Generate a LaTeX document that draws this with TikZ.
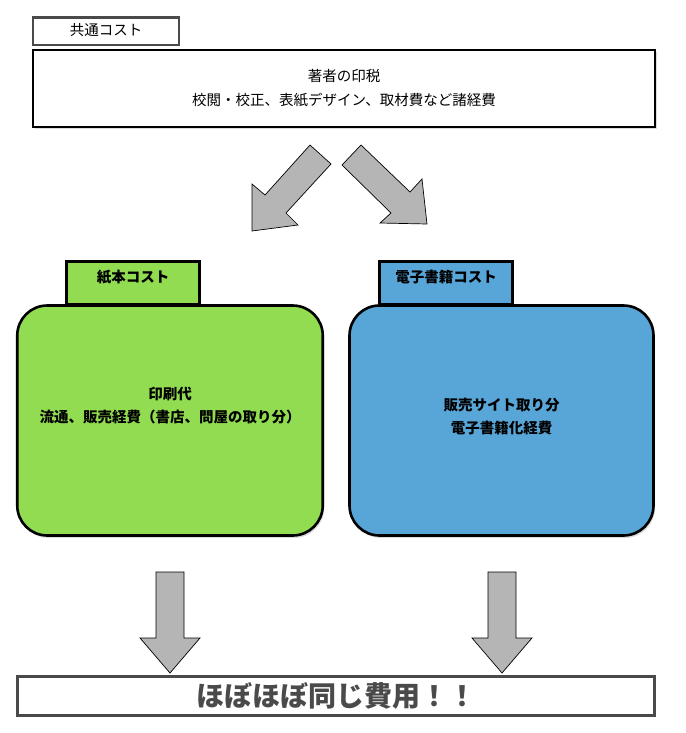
\documentclass[tikz,border=0pt]{standalone}
\usepackage{fontspec}
\setmainfont{Noto Sans CJK JP}
\usetikzlibrary{shadows}
\definecolor{paperfill}{RGB}{145,220,80}
\definecolor{ebookfill}{RGB}{88,166,216}
\definecolor{arrowgray}{RGB}{181,181,181}
\definecolor{bordergray}{RGB}{74,74,74}
\begin{document}
\begin{tikzpicture}[x=1pt,y=-1pt,
  softshadow/.style={drop shadow={opacity=0.28,shadow xshift=1.5pt,shadow yshift=-2.5pt}},
  graybox/.style={draw=bordergray,line width=2.6pt,fill=white,inner sep=0pt},
  blackbox/.style={draw=black,line width=2.6pt,fill=white,inner sep=0pt,softshadow},
  tabbox/.style={draw=black,line width=2.6pt,inner sep=0pt,softshadow},
  costbox/.style={draw=black,line width=2.6pt,rounded corners=30pt,inner sep=0pt,softshadow},
  regtext/.style={font=\fontsize{14.5}{24}\selectfont,align=center,inner sep=0pt},
  boldtext/.style={font=\fontsize{14.5}{23}\selectfont\bfseries,align=center,inner sep=0pt},
  blockarrow/.style={draw=black,line width=0.7pt,fill=arrowgray,line join=miter}
]
\useasboundingbox (0,0) rectangle (685,733);

% common cost
\node[blackbox,minimum width=622pt,minimum height=77pt,regtext] (common) at (344,88.5)
  {著者の印税\\校閲・校正、表紙デザイン、取材費など諸経費};
\node[graybox,minimum width=146pt,minimum height=27.5pt] (commontab) at (106,31.2) {};
\node[regtext] (commonlabel) at (106,30) {共通コスト};

% diagonal arrows
\draw[blockarrow] (310,145) -- (331,164) -- (286,213) -- (298,225) -- (252,231) -- (252,184) -- (265,195) -- cycle;
\draw[blockarrow] (361,145) -- (410,192) -- (422,179) -- (427,224) -- (380,223) -- (391,213) -- (342,165) -- cycle;

% paper book
\node[tabbox,fill=paperfill,minimum width=133.5pt,minimum height=42.5pt] (papertab) at (133,282.75) {};
\node[boldtext] (paperlabel) at (133,277) {紙本コスト};
\node[costbox,fill=paperfill,minimum width=305.5pt,minimum height=230pt] (paper) at (170,420.5) {};
\node[boldtext] (papertext) at (170,405.5) {印刷代\\流通、販売経費（書店、問屋の取り分）};

% ebook
\node[tabbox,fill=ebookfill,minimum width=133pt,minimum height=42.5pt] (ebooktab) at (446,282.75) {};
\node[boldtext] (ebooklabel) at (446,277) {電子書籍コスト};
\node[costbox,fill=ebookfill,minimum width=304pt,minimum height=230pt] (ebook) at (501.5,420.5) {};
\node[boldtext] (ebooktext) at (501.5,417) {販売サイト取り分\\電子書籍化経費};

% result
\node[graybox,minimum width=637pt,minimum height=39pt,font=\fontsize{28}{30}\selectfont\bfseries,text=bordergray] (result) at (336,696) {ほぼほぼ同じ費用！！};

% down arrows
\draw[blockarrow] (156,572) -- (184,572) -- (184,638) -- (200,638) -- (170,673) -- (140,638) -- (156,638) -- cycle;
\draw[blockarrow] (488,572) -- (516,572) -- (516,638) -- (532,638) -- (502,673) -- (472,638) -- (488,638) -- cycle;
\end{tikzpicture}
\end{document}
